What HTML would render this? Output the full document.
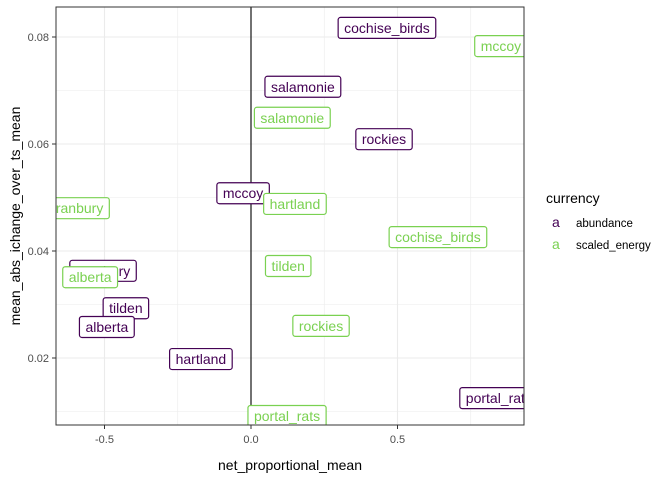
<!DOCTYPE html>
<html><head><meta charset="utf-8"><style>
body{margin:0;background:#fff;font-family:"Liberation Sans",Arial,sans-serif;}
svg text{font-family:"Liberation Sans",Arial,sans-serif;}
</style></head><body>
<svg id="chart" width="672" height="480" xmlns="http://www.w3.org/2000/svg">
<defs><clipPath id="pc"><rect x="56" y="7" width="468" height="418"/></clipPath></defs>
<rect x="0" y="0" width="672" height="480" fill="#fff"/>
<g id="grid" clip-path="url(#pc)"></g>
<g id="labels" clip-path="url(#pc)"></g>
<rect x="56" y="7" width="468" height="418" fill="none" stroke="#333" stroke-width="1"/>
<g id="axes"></g>
<text x="290" y="470" text-anchor="middle" font-size="14" fill="#000">net_proportional_mean</text>
<text transform="translate(20,216) rotate(-90)" text-anchor="middle" font-size="14" fill="#000">mean_abs_ichange_over_ts_mean</text>
<g>
<text x="546" y="203" font-size="14" fill="#000">currency</text>
<g>
<text x="552" y="227" font-size="14" fill="#440154">a</text>
<text x="576" y="227" font-size="11.5" fill="#000">abundance</text></g>
<g>
<text x="552" y="249" font-size="14" fill="#7AD151">a</text>
<text x="576" y="249" font-size="11.5" fill="#000">scaled_energy</text></g>
</g>
</svg>
<script>
const abNames=["cochise_birds","salamonie","rockies","mccoy","cranbury","tilden","alberta","hartland","portal_rats"];
const abX=[0.464,0.177,0.454,-0.027,-0.505,-0.427,-0.492,-0.171,0.846];
const abY=[0.0817,0.0707,0.0609,0.0508,0.0363,0.0293,0.0258,0.0198,0.0125];
const seNames=["mccoy","salamonie","hartland","cranbury","alberta","tilden","cochise_birds","rockies","portal_rats"];
const seX=[0.853,0.141,0.150,-0.597,-0.549,0.127,0.638,0.239,0.123];
const seY=[0.0783,0.0649,0.0488,0.0480,0.0351,0.0372,0.0426,0.0260,0.00916];
const xTicks=[-0.5,0,0.5];const xTickLabels=["-0.5","0.0","0.5"];
const yTicks=[0.02,0.04,0.06,0.08];const yTickLabels=["0.02","0.04","0.06","0.08"];
const NS="http://www.w3.org/2000/svg";
const sx=v=>251+v*293, sy=v=>358-(v-0.02)*5350;
const grid=document.getElementById('grid'),axes=document.getElementById('axes'),lab=document.getElementById('labels');
function mk(t,a,p){const e=document.createElementNS(NS,t);for(const k in a)e.setAttribute(k,a[k]);p.appendChild(e);return e;}
const xMinor=[-0.75,-0.25,0.25,0.75],yMinor=[0.01,0.03,0.05,0.07];
xMinor.forEach(v=>{const l=mk('line',{x1:sx(v),x2:sx(v),y1:7,y2:425,stroke:'#ebebeb','stroke-width':0.6},grid);});
yMinor.forEach(v=>{const l=mk('line',{x1:56,x2:524,y1:sy(v),y2:sy(v),stroke:'#ebebeb','stroke-width':0.6},grid);});
xTicks.forEach((v,i)=>{const l=mk('line',{x1:sx(v),x2:sx(v),y1:7,y2:425,stroke:'#ebebeb','stroke-width':1.1},grid);
mk('line',{x1:sx(v),x2:sx(v),y1:425,y2:429,stroke:'#333'},axes);
const t=mk('text',{x:sx(v),y:443,'text-anchor':'middle','font-size':11,fill:'#4d4d4d'},axes);t.textContent=xTickLabels[i];});
yTicks.forEach((v,i)=>{const l=mk('line',{x1:56,x2:524,y1:sy(v),y2:sy(v),stroke:'#ebebeb','stroke-width':1.1},grid);
mk('line',{x1:52,x2:56,y1:sy(v),y2:sy(v),stroke:'#333'},axes);
const t=mk('text',{x:49,y:sy(v)+4,'text-anchor':'end','font-size':11,fill:'#4d4d4d'},axes);t.textContent=yTickLabels[i];});
const vl=mk('line',{x1:sx(0),x2:sx(0),y1:7,y2:425,stroke:'#000','stroke-width':1.1},lab);

function draw(names,xs,ys,col,nm){names.forEach((n,i)=>{const g=mk('g',{},lab);


const t=mk('text',{x:sx(xs[i]),y:sy(ys[i])+5,'text-anchor':'middle','font-size':14,fill:col},g);t.textContent=n;
const w=t.getComputedTextLength()+12;
const r=mk('rect',{x:sx(xs[i])-w/2,y:sy(ys[i])-10.5,width:w,height:21,rx:2.5,fill:'#fff',stroke:col,'stroke-width':1.2},g);
g.insertBefore(r,t);});}
draw(abNames,abX,abY,'#440154','abundance');
draw(seNames,seX,seY,'#7AD151','scaled-energy');
</script>
</body></html>
